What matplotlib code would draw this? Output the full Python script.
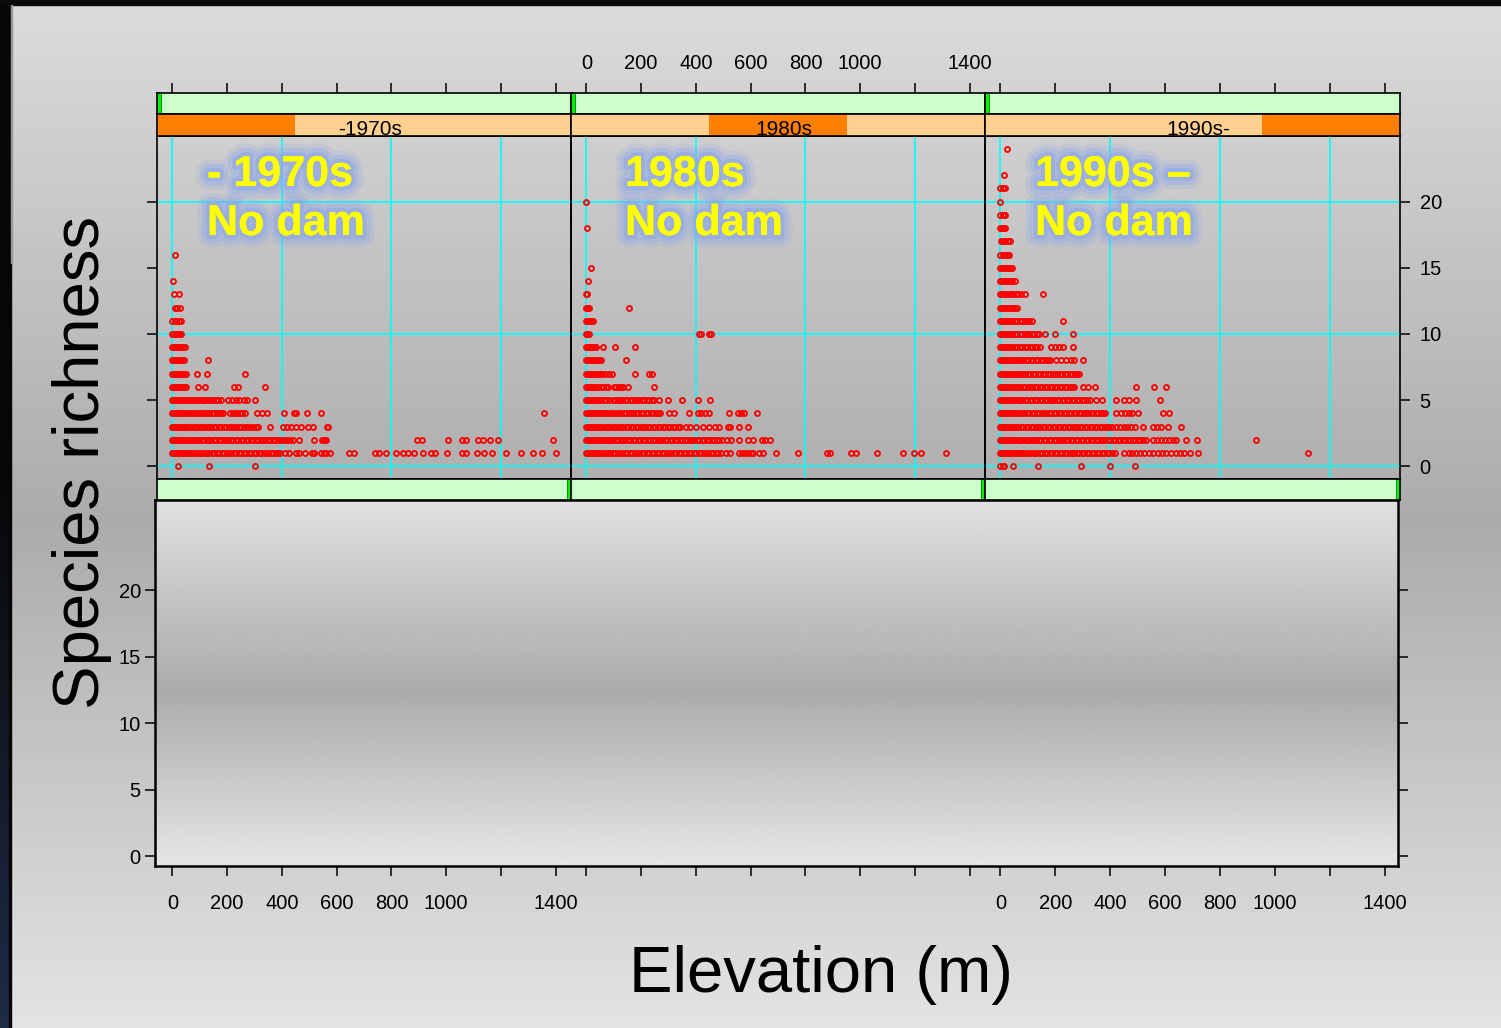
import numpy as np
import matplotlib
matplotlib.use("Agg")
import matplotlib.pyplot as plt
from matplotlib.patches import Rectangle
import matplotlib.patheffects as pe

plt.rcParams['font.family'] = ['Liberation Sans', 'DejaVu Sans']

## Labels and ticks
periods = ["-1970s", "1980s", "1990s-"]
overlay_top = ["- 1970s", "1980s", "1990s \u2013"]
overlay_bottom = ["No dam", "No dam", "No dam"]
x_ticks = [0, 200, 400, 600, 800, 1000, 1200, 1400]
x_labels = ["0", "200", "400", "600", "800", "1000", "", "1400"]
y_ticks = [0, 5, 10, 15, 20]
y_labels = ["0", "5", "10", "15", "20"]
grid_x = [0, 400, 800, 1200]
grid_y = [0, 10, 20]

## Species richness -> elevations (m) of sites
pre1970 = {
    16: [8],
    14: [3],
    13: [6, 23],
    12: [10, 18, 28],
    11: [0, 8, 15, 24, 31],
    10: [0, 6, 13, 21, 27, 33],
    9: [0, 6, 11, 18, 25, 31, 38, 45],
    8: [0, 5, 11, 16, 23, 29, 36, 44, 129],
    7: [0, 5, 11, 17, 24, 30, 37, 44, 51, 89, 127, 266],
    6: [0, 5, 11, 17, 24, 31, 38, 44, 51, 92, 118, 227, 238, 339],
    5: [0, 4, 9, 15, 21, 28, 35, 41, 49, 57, 64, 73, 81, 90, 98, 107, 116, 124, 133,
        141, 150, 160, 168, 176, 202, 218, 234, 242, 260, 273, 303],
    4: [0, 4, 10, 15, 22, 28, 35, 43, 50, 58, 67, 75, 83, 92, 100, 109, 118, 127, 135,
        144, 153, 162, 171, 179, 186, 212, 220, 229, 237, 246, 255, 266, 309, 327, 346,
        409, 443, 451, 491, 544, 1359],
    3: [0, 4, 9, 15, 21, 28, 35, 42, 50, 58, 66, 74, 83, 91, 100, 108, 117, 126, 134,
        143, 152, 161, 170, 179, 188, 197, 206, 214, 223, 232, 242, 251, 261, 272, 283,
        294, 304, 314, 358, 405, 420, 435, 450, 470, 496, 512, 565, 570],
    2: [0, 4, 9, 15, 21, 27, 34, 41, 49, 57, 65, 73, 82, 90, 99, 107, 116, 125, 133,
        142, 151, 160, 169, 178, 187, 196, 205, 214, 223, 232, 241, 250, 259, 268, 277,
        286, 295, 304, 313, 322, 331, 340, 349, 358, 367, 376, 387, 397, 408, 418, 430,
        442, 464, 516, 546, 553, 561, 893, 911, 1008, 1057, 1072, 1118, 1136, 1161,
        1189, 1392],
    1: [0, 4, 8, 13, 19, 25, 31, 38, 45, 52, 60, 68, 76, 84, 92, 101, 109, 118, 126,
        135, 144, 153, 162, 171, 180, 189, 198, 207, 216, 225, 234, 243, 252, 261, 270,
        279, 288, 297, 306, 315, 324, 333, 342, 351, 360, 369, 378, 386, 394, 410, 427,
        451, 464, 483, 510, 516, 543, 555, 561, 577, 646, 665, 741, 753, 781, 816, 844,
        862, 881, 917, 945, 960, 1002, 1057, 1072, 1114, 1139, 1167, 1218, 1274, 1319,
        1351, 1400],
    0: [21, 133, 303],
}

s1980 = {
    20: [0],
    18: [3],
    15: [17],
    14: [5],
    13: [0, 3],
    12: [0, 5, 11, 154],
    11: [0, 6, 13, 20, 26],
    10: [0, 4, 10, 412, 418, 449, 457],
    9: [0, 6, 12, 18, 24, 30, 36, 60, 106, 179],
    8: [0, 6, 12, 19, 26, 33, 40, 48, 55, 145],
    7: [0, 6, 12, 19, 26, 34, 42, 50, 58, 67, 81, 94, 179, 230, 238],
    6: [0, 6, 13, 20, 28, 36, 44, 53, 62, 70, 79, 102, 110, 118, 126, 133, 152, 248],
    5: [0, 5, 10, 16, 23, 30, 38, 46, 55, 64, 73, 82, 98, 106, 114, 123, 131, 140, 149,
        158, 167, 176, 185, 194, 203, 212, 221, 230, 239, 248, 266, 300, 351, 409, 450],
    4: [0, 5, 10, 16, 22, 29, 36, 44, 52, 60, 68, 77, 85, 94, 102, 111, 120, 128, 137,
        146, 155, 164, 172, 181, 190, 199, 208, 217, 226, 235, 244, 253, 262, 270, 303,
        321, 376, 406, 420, 435, 449, 522, 555, 566, 577, 622],
    3: [0, 5, 10, 16, 22, 29, 36, 43, 51, 59, 67, 75, 84, 92, 101, 109, 118, 127, 135,
        144, 153, 162, 171, 180, 189, 198, 207, 216, 225, 234, 243, 252, 261, 270, 279,
        288, 297, 306, 315, 324, 333, 341, 364, 380, 400, 425, 449, 470, 485, 516, 525,
        558, 592],
    2: [0, 5, 10, 16, 22, 28, 35, 42, 50, 58, 66, 74, 82, 91, 99, 108, 117, 125, 134,
        143, 152, 161, 170, 179, 188, 197, 206, 215, 224, 233, 242, 251, 260, 269, 278,
        287, 296, 305, 314, 323, 332, 341, 350, 359, 368, 377, 386, 395, 404, 413, 422,
        431, 440, 449, 458, 467, 476, 485, 497, 512, 528, 558, 592, 609, 640, 651, 671],
    1: [0, 4, 9, 14, 20, 26, 33, 40, 47, 55, 63, 71, 79, 88, 96, 105, 114, 122, 131,
        140, 149, 158, 167, 176, 185, 194, 203, 212, 221, 230, 239, 248, 257, 266, 275,
        284, 293, 302, 311, 320, 329, 338, 347, 356, 365, 374, 383, 392, 401, 410, 419,
        428, 437, 446, 455, 464, 473, 482, 490, 510, 525, 558, 570, 580, 592, 600, 609,
        630, 647, 692, 774, 878, 889, 968, 984, 1063, 1158, 1195, 1221, 1315],
}

post1990 = {
    24: [23],
    22: [12],
    21: [0, 8, 18],
    20: [0],
    19: [0, 8, 18],
    18: [0, 6, 12, 18],
    17: [2, 10, 18, 27, 35],
    16: [0, 8, 16, 23, 30],
    15: [0, 7, 14, 21, 29, 36, 41],
    14: [0, 7, 14, 21, 28, 35, 42, 55],
    13: [0, 7, 14, 22, 30, 38, 47, 56, 65, 75, 90, 157],
    12: [0, 7, 14, 22, 30, 38, 46, 54, 62],
    11: [0, 6, 13, 20, 28, 36, 44, 52, 61, 70, 79, 88, 97, 106, 115, 227],
    10: [0, 6, 13, 20, 28, 36, 44, 52, 61, 70, 79, 88, 97, 106, 115, 124, 132, 140,
         163, 200, 266],
    9: [0, 6, 13, 20, 28, 36, 44, 53, 62, 71, 80, 89, 98, 107, 116, 125, 134, 146, 185,
        200, 215, 227, 266],
    8: [0, 6, 12, 19, 26, 34, 42, 50, 58, 67, 75, 84, 93, 102, 111, 120, 129, 138, 147,
        156, 165, 173, 180, 203, 220, 240, 258, 270, 300],
    7: [0, 6, 12, 19, 26, 33, 41, 49, 57, 65, 74, 82, 91, 100, 109, 118, 127, 136, 145,
        154, 163, 172, 181, 190, 199, 208, 217, 226, 235, 244, 253, 262, 271, 279, 286],
    6: [0, 5, 11, 18, 25, 32, 40, 48, 56, 64, 73, 81, 90, 99, 108, 117, 126, 135, 144,
        153, 162, 171, 180, 189, 198, 207, 216, 225, 234, 243, 252, 261, 270, 300, 320,
        343, 493, 558, 605],
    5: [0, 5, 11, 17, 24, 31, 39, 47, 55, 63, 72, 80, 89, 98, 107, 116, 125, 134, 143,
        152, 161, 170, 179, 188, 197, 206, 215, 224, 233, 242, 251, 260, 269, 278, 287,
        296, 305, 315, 325, 350, 370, 422, 452, 470, 495, 580],
    4: [0, 5, 10, 16, 23, 30, 37, 45, 53, 61, 70, 78, 87, 96, 105, 114, 123, 132, 141,
        150, 159, 168, 177, 186, 195, 204, 213, 222, 231, 240, 249, 258, 267, 276, 285,
        294, 303, 312, 321, 330, 339, 348, 357, 366, 374, 380, 422, 440, 455, 470, 480,
        501, 592, 614],
    3: [0, 4, 9, 15, 21, 28, 35, 42, 50, 58, 66, 75, 83, 92, 101, 110, 119, 128, 137,
        146, 155, 164, 173, 182, 191, 200, 209, 218, 227, 236, 245, 254, 263, 272, 281,
        290, 299, 308, 317, 326, 335, 344, 353, 362, 371, 380, 389, 397, 405, 420, 435,
        450, 462, 475, 490, 518, 555, 570, 586, 610, 659],
    2: [0, 4, 9, 14, 20, 26, 33, 40, 47, 55, 63, 71, 79, 88, 96, 105, 114, 122, 131,
        140, 149, 158, 167, 176, 185, 194, 203, 212, 221, 230, 239, 248, 257, 266, 275,
        284, 293, 302, 311, 320, 329, 338, 347, 356, 365, 374, 383, 392, 401, 410, 419,
        428, 437, 446, 455, 464, 473, 482, 491, 500, 509, 518, 530, 556, 570, 585, 600,
        615, 630, 641, 678, 718, 933],
    1: [0, 4, 8, 13, 19, 25, 31, 38, 45, 52, 60, 68, 76, 84, 92, 101, 109, 118, 126,
        135, 144, 153, 162, 171, 180, 189, 198, 207, 216, 225, 234, 243, 252, 261, 270,
        279, 288, 297, 306, 315, 324, 333, 342, 351, 360, 369, 378, 387, 396, 405, 416,
        452, 468, 480, 495, 510, 525, 540, 556, 574, 590, 605, 620, 640, 655, 670, 690,
        720, 1122],
    0: [0, 8, 15, 47, 136, 292, 398, 492],
}

panel_data = [pre1970, s1980, post1990]

## Layout (pixels of the 1501 x 1028 picture)
W, H = 1501, 1028


def box(x0, y0, x1, y1):
    return [x0 / W, 1 - y1 / H, (x1 - x0) / W, (y1 - y0) / H]


edges = [157, 571, 985, 1400]
xlim = (-56, 1456)
ylim = (-0.96, 24.96)
tick_len = 7.2
tick_w = 1.1
lab_size = 14.5

fig = plt.figure(figsize=(W / 100, H / 100), dpi=100)

## background gradient and dark edges
bg = fig.add_axes([0, 0, 1, 1], zorder=-10)
bg.set_xlim(0, W)
bg.set_ylim(H, 0)
bg.axis("off")
yy = np.arange(H)
shade = np.interp(yy, [0, 520, H], [0.86, 0.67, 0.89])
bg.imshow(shade[:, None], cmap="gray", vmin=0, vmax=1, extent=(0, W, H, 0), aspect="auto")
edge = np.zeros((H, 1, 3))
mix = np.clip((yy - 480) / (H - 480), 0, 1)
edge[:, 0, 0] = 0.03 + 0.09 * mix
edge[:, 0, 1] = 0.03 + 0.14 * mix
edge[:, 0, 2] = 0.03 + 0.25 * mix
bg.imshow(edge, extent=(0, 9, H, 0), aspect="auto")
bg.add_patch(Rectangle((9, 0), 2, H, color="#050505"))
bg.add_patch(Rectangle((0, 0), W, 5, color="#0a0a0a"))
bg.add_patch(Rectangle((11, 5), 1, 258, color="#9a9a9a"))

## bottom cover box
cov = fig.add_axes(box(155, 500, 1398, 866), zorder=1)
cy = np.linspace(0, 1, 400)
cshade = np.interp(cy, [0, 0.52, 1], [0.88, 0.67, 0.9])
cov.set_xlim(0, 1)
cov.set_ylim(-0.75, 26.77)
cov.imshow(cshade[:, None], cmap="gray", vmin=0, vmax=1,
           extent=(0, 1, -0.75, 26.77), aspect="auto", origin="upper")
cov.set_xticks([])
cov.set_yticks(y_ticks)
cov.set_yticklabels(y_labels)
cov.tick_params(axis="y", left=True, right=True, labelleft=True, labelright=False,
                length=tick_len, width=tick_w, pad=3, labelsize=lab_size)
for sp in cov.spines.values():
    sp.set_linewidth(1.8)

for i in range(3):
    e0, e1 = edges[i], edges[i + 1]

    ## main panel
    ax = fig.add_axes(box(e0, 136, e1, 479), zorder=2)
    ax.set_facecolor("none")
    ax.set_xlim(xlim)
    ax.set_ylim(ylim)
    for g in grid_x:
        ax.axvline(g, color="#00ffff", lw=1.2, zorder=1)
    for g in grid_y:
        ax.axhline(g, color="#00ffff", lw=1.2, zorder=1)
    for r, xs in panel_data[i].items():
        ax.plot(xs, [r] * len(xs), "o", mfc="none", mec="#ff0000", ms=3.6, mew=1.35,
                zorder=3, clip_on=False)
    ax.set_xticks([])
    ax.set_yticks(y_ticks)
    ax.set_yticklabels(y_labels)
    if i == 0:
        ax.tick_params(axis="y", left=True, right=False, labelleft=False,
                       length=tick_len, width=tick_w)
    elif i == 1:
        ax.tick_params(axis="y", left=False, right=False, labelleft=False)
    else:
        ax.tick_params(axis="y", left=False, right=True, labelleft=False, labelright=True,
                       length=tick_len, width=tick_w, pad=7, labelsize=lab_size)
    for sp in ax.spines.values():
        sp.set_linewidth(1.2)

    ## overlay captions with a soft blue glow
    glow = [pe.withStroke(linewidth=18, foreground=(0.55, 0.65, 0.92, 0.18)),
            pe.withStroke(linewidth=12, foreground=(0.55, 0.65, 0.92, 0.3)),
            pe.withStroke(linewidth=6, foreground=(0.55, 0.65, 0.92, 0.55)),
            pe.Normal()]
    left = [207, 625, 1035][i]
    fig.text(left / W, 1 - 186 / H, overlay_top[i], color="#ffff00", fontsize=31,
             fontweight="bold", ha="left", va="baseline", path_effects=glow, zorder=5)
    fig.text(left / W, 1 - 235 / H, overlay_bottom[i], color="#ffff00", fontsize=31,
             fontweight="bold", ha="left", va="baseline", path_effects=glow, zorder=5)

    ## strips
    gs = fig.add_axes(box(e0, 93, e1, 114), zorder=2)
    gs.set_facecolor("#ccffcc")
    gs.set_xlim(xlim)
    gs.set_ylim(0, 1)
    gs.add_patch(Rectangle((0, 0), 0.01, 1, transform=gs.transAxes,
                           facecolor="#00f000", edgecolor="#008000", lw=0.6))
    gs.set_yticks([])
    gs.set_xticks(x_ticks)
    gs.set_xticklabels(x_labels)
    gs.xaxis.set_ticks_position("top")
    gs.tick_params(axis="x", top=True, bottom=False, labeltop=(i == 1), labelbottom=False,
                   length=tick_len, width=tick_w, pad=7, labelsize=lab_size)
    for sp in gs.spines.values():
        sp.set_linewidth(1.2)

    os_ = fig.add_axes(box(e0, 114, e1, 136), zorder=2)
    os_.set_facecolor("#ffd08f")
    os_.set_xlim(0, 1)
    os_.set_ylim(0, 1)
    os_.add_patch(Rectangle((i / 3, 0), 1 / 3, 1, facecolor="#ff8000", edgecolor="none"))
    os_.text(0.515, 0.05, periods[i], ha="center", va="baseline", fontsize=15,
             clip_on=True)
    os_.set_xticks([])
    os_.set_yticks([])
    for sp in os_.spines.values():
        sp.set_linewidth(1.2)

    bs = fig.add_axes(box(e0, 479, e1, 500), zorder=2)
    bs.set_facecolor("#ccffcc")
    bs.set_xlim(0, 1)
    bs.set_ylim(0, 1)
    bs.add_patch(Rectangle((0.99, 0), 0.01, 1, facecolor="#00f000", edgecolor="#008000",
                           lw=0.6))
    bs.set_xticks([])
    bs.set_yticks([])
    for sp in bs.spines.values():
        sp.set_linewidth(1.2)

    ## bottom row axis ticks
    bt = fig.add_axes(box(e0, 500, e1, 866), zorder=0)
    bt.set_facecolor("none")
    bt.set_xlim(xlim)
    for sp in bt.spines.values():
        sp.set_visible(False)
    bt.set_yticks([])
    bt.set_xticks(x_ticks)
    bt.set_xticklabels(x_labels)
    bt.tick_params(axis="x", bottom=True, labelbottom=(i != 1), length=tick_len,
                   width=tick_w, pad=13, labelsize=lab_size)

## axis titles
fig.text(82 / W, 1 - 462 / H, "Species richness", rotation=90, ha="center", va="center",
         fontsize=47)
fig.text(821 / W, 1 - 975 / H, "Elevation (m)", ha="center", va="center", fontsize=47)

fig.savefig("out.png", dpi=100)
